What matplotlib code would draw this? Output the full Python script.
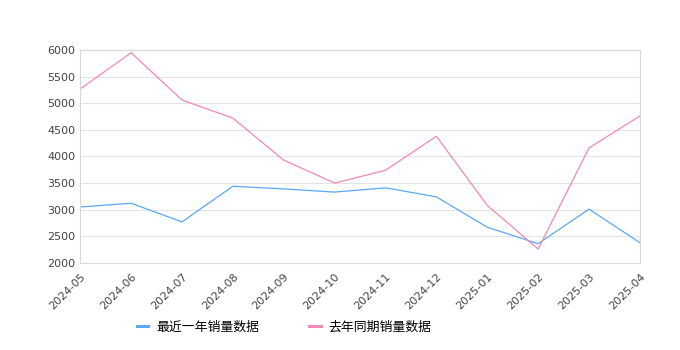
import matplotlib
matplotlib.use("Agg")
import matplotlib.pyplot as plt
from matplotlib.lines import Line2D

plt.rcParams['font.family'] = ['Noto Sans CJK SC', 'DejaVu Sans']

# 数据
months = ["2024-05", "2024-06", "2024-07", "2024-08", "2024-09", "2024-10",
          "2024-11", "2024-12", "2025-01", "2025-02", "2025-03", "2025-04"]
recent = [3050, 3120, 2770, 3440, 3390, 3330, 3410, 3240, 2670, 2360, 3010, 2380]
last_year = [5270, 5950, 5060, 4720, 3930, 3500, 3740, 4380, 3080, 2260, 4160, 4760]
labels = ["最近一年销量数据", "去年同期销量数据"]
colors = ["#5ba8f5", "#f287b8"]

fig = plt.figure(figsize=(6.8, 3.5), dpi=100)
ax = fig.add_axes([0.118, 0.249, 0.823, 0.608])

x = range(len(months))
ax.plot(x, recent, color=colors[0], lw=0.9)
ax.plot(x, last_year, color=colors[1], lw=0.9)

ax.set_xlim(0, len(months) - 1)
ax.set_ylim(2000, 6000)
ax.set_yticks(range(2000, 6001, 500))
ax.set_xticks(list(x))
ax.set_xticklabels(months, rotation=45, ha="right", rotation_mode="anchor")
ax.tick_params(axis="both", length=0, labelsize=8, labelcolor="#444444")
ax.tick_params(axis="x", pad=6)
for t in ax.get_xticklabels() + ax.get_yticklabels():
    t.set_family("DejaVu Sans")
ax.grid(axis="y", color="#e3e3e3", lw=0.8)
for s in ax.spines.values():
    s.set_color("#d9d9d9")
    s.set_linewidth(0.8)

handles = [Line2D([], [], color=c, lw=2.2) for c in colors]
fig.legend(handles, labels, loc="center", bbox_to_anchor=(0.418, 0.066), ncol=2,
           frameon=False, fontsize=9.3, handlelength=0.9, columnspacing=3.9,
           handletextpad=0.6)

fig.savefig("out.png", dpi=100)
